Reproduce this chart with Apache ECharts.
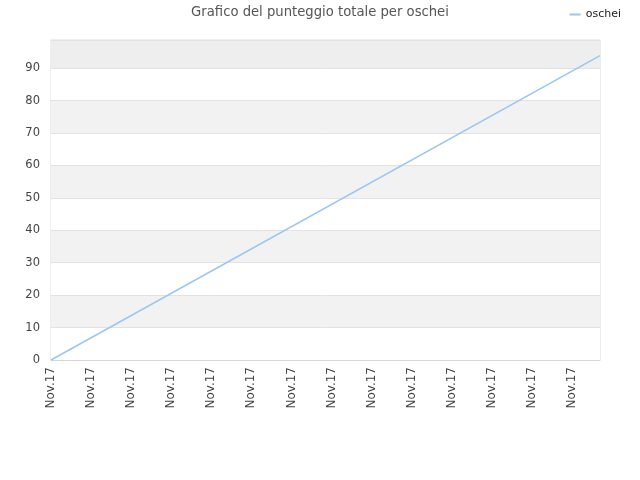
<!DOCTYPE html>
<html>
<head>
<meta charset="utf-8">
<script src="https://cdn.jsdelivr.net/npm/echarts@6/dist/echarts.min.js"></script>
<style>
  html, body { margin: 0; padding: 0; background: #fff; }
  #chart { width: 640px; height: 480px; }
</style>
</head>
<body>
<div id="chart"></div>
<script>
// dati
var titolo = 'Grafico del punteggio totale per oschei';
var nomeSerie = 'oschei';
var numGiorni = 138;              // punti sull'asse x, un'etichetta ogni 10
var etichetta = 'Nov.17';
var categorie = new Array(numGiorni).fill(etichetta);
// [indice categoria, punteggio]
var punteggi = [[0, 0], [137, 93.9]];
var yMax = 98.7;

var chart = echarts.init(document.getElementById('chart'));

var bande = ['#ffffff', '#f2f2f2', '#ffffff', '#f2f2f2', '#ffffff',
             '#f2f2f2', '#ffffff', '#f2f2f2', '#ffffff', '#eeeeee'];

var option = {
    animation: false,
    textStyle: { fontFamily: 'DejaVu Sans' },
    title: {
        text: titolo,
        left: 'center',
        top: 1,
        textStyle: {
            color: '#555',
            fontSize: 13.2,
            fontWeight: 'normal',
            fontFamily: 'DejaVu Sans'
        }
    },
    legend: {
        right: 14,
        top: 4,
        itemWidth: 11,
        itemHeight: 2,
        icon: 'rect',
        itemGap: 7,
        textStyle: { color: '#222', fontSize: 11 },
        data: [nomeSerie]
    },
    grid: {
        left: 51,
        right: 40,
        top: 40,
        bottom: 120,
        show: true,
        borderColor: '#dcdcdc',
        borderWidth: 1
    },
    xAxis: {
        type: 'category',
        data: categorie,
        boundaryGap: false,
        axisLine: { lineStyle: { color: '#d6d6d6' } },
        axisTick: { show: false },
        axisLabel: {
            interval: 9,
            rotate: 90,
            color: '#444',
            fontSize: 12,
            margin: 7
        },
        splitLine: { show: false }
    },
    yAxis: {
        type: 'value',
        min: 0,
        max: yMax,
        interval: 10,
        axisLine: { show: false },
        axisTick: { show: false },
        axisLabel: {
            color: '#444',
            fontSize: 11.5,
            margin: 11,
            showMaxLabel: false
        },
        splitLine: { lineStyle: { color: '#e2e2e2' } },
        splitArea: { show: true, areaStyle: { color: bande } }
    },
    series: [{
        name: nomeSerie,
        type: 'line',
        data: punteggi,
        symbol: 'none',
        lineStyle: { color: '#99c6f2', width: 1.5 },
        itemStyle: { color: '#99c6f2' }
    }]
};

chart.setOption(option);
</script>
</body>
</html>
